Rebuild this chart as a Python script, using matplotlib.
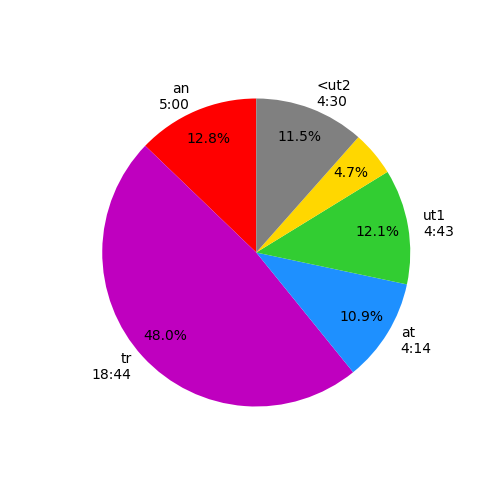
import matplotlib
matplotlib.use("Agg")
import matplotlib.pyplot as plt

labels = ["an\n5:00", "tr\n18:44", "at\n4:14", "ut1\n4:43", "", "<ut2\n4:30"]
minutes = [300, 1124, 254, 283, 110, 270]
colors = ["red", "m", "dodgerblue", "limegreen", "gold", "gray"]

fig, ax = plt.subplots(figsize=(5, 5), dpi=100)
ax.pie(minutes, labels=labels, colors=colors, autopct="%1.1f%%",
       startangle=90, pctdistance=0.8)
fig.savefig("out.png")
